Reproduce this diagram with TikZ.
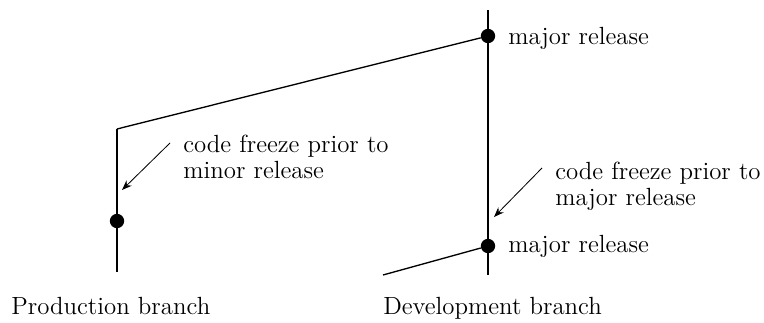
\documentclass[tikz,border=0pt]{standalone}
\usetikzlibrary{arrows.meta}
\begin{document}
\begin{tikzpicture}[x=0.6pt,y=-0.6pt,
  branch/.style={line width=1.3pt},
  merge/.style={line width=0.8pt},
  release/.style={circle,fill=black,inner sep=0pt,minimum size=8.6pt},
  note/.style={-{Stealth[length=6pt,width=4.5pt]},line width=0.5pt},
  lbl/.style={anchor=base west,inner sep=0pt,font=\fontsize{14.9}{15.6}\selectfont,align=left}]
\useasboundingbox (0,0) rectangle (764,322);
% development branch
\coordinate (devtop) at (488,10);
\coordinate (devbot) at (488,275);
\draw[branch] (devtop) -- (devbot);
% production branch
\coordinate (prodtop) at (117,129);
\coordinate (prodbot) at (117,272);
\draw[branch] (prodtop) -- (prodbot);
\coordinate (lowend) at (383,275);
% releases
\node[release] (rel1) at (488,36) {};
\node[release] (rel2) at (488,246) {};
\node[release] (rel3) at (117,221) {};
\draw[merge] (rel1) -- (prodtop);
\draw[merge] (rel2) -- (lowend);
% labels
\node[lbl] (t1) at (508,44) {major release};
\node[lbl] (t2) at (508,252) {major release};
\node[lbl] (t3) at (183,178) {code freeze prior to\\minor release};
\node[lbl] (t4) at (555,205) {code freeze prior to\\major release};
\node[lbl] (pb) at (11,314) {Production branch};
\node[lbl] (db) at (383,314) {Development branch};
% annotation arrows
\coordinate (a1s) at (170,143);
\coordinate (a1e) at (122,190);
\coordinate (a2s) at (542,168);
\coordinate (a2e) at (494,217);
\draw[note] (a1s) -- (a1e);
\draw[note] (a2s) -- (a2e);
\end{tikzpicture}
\end{document}
